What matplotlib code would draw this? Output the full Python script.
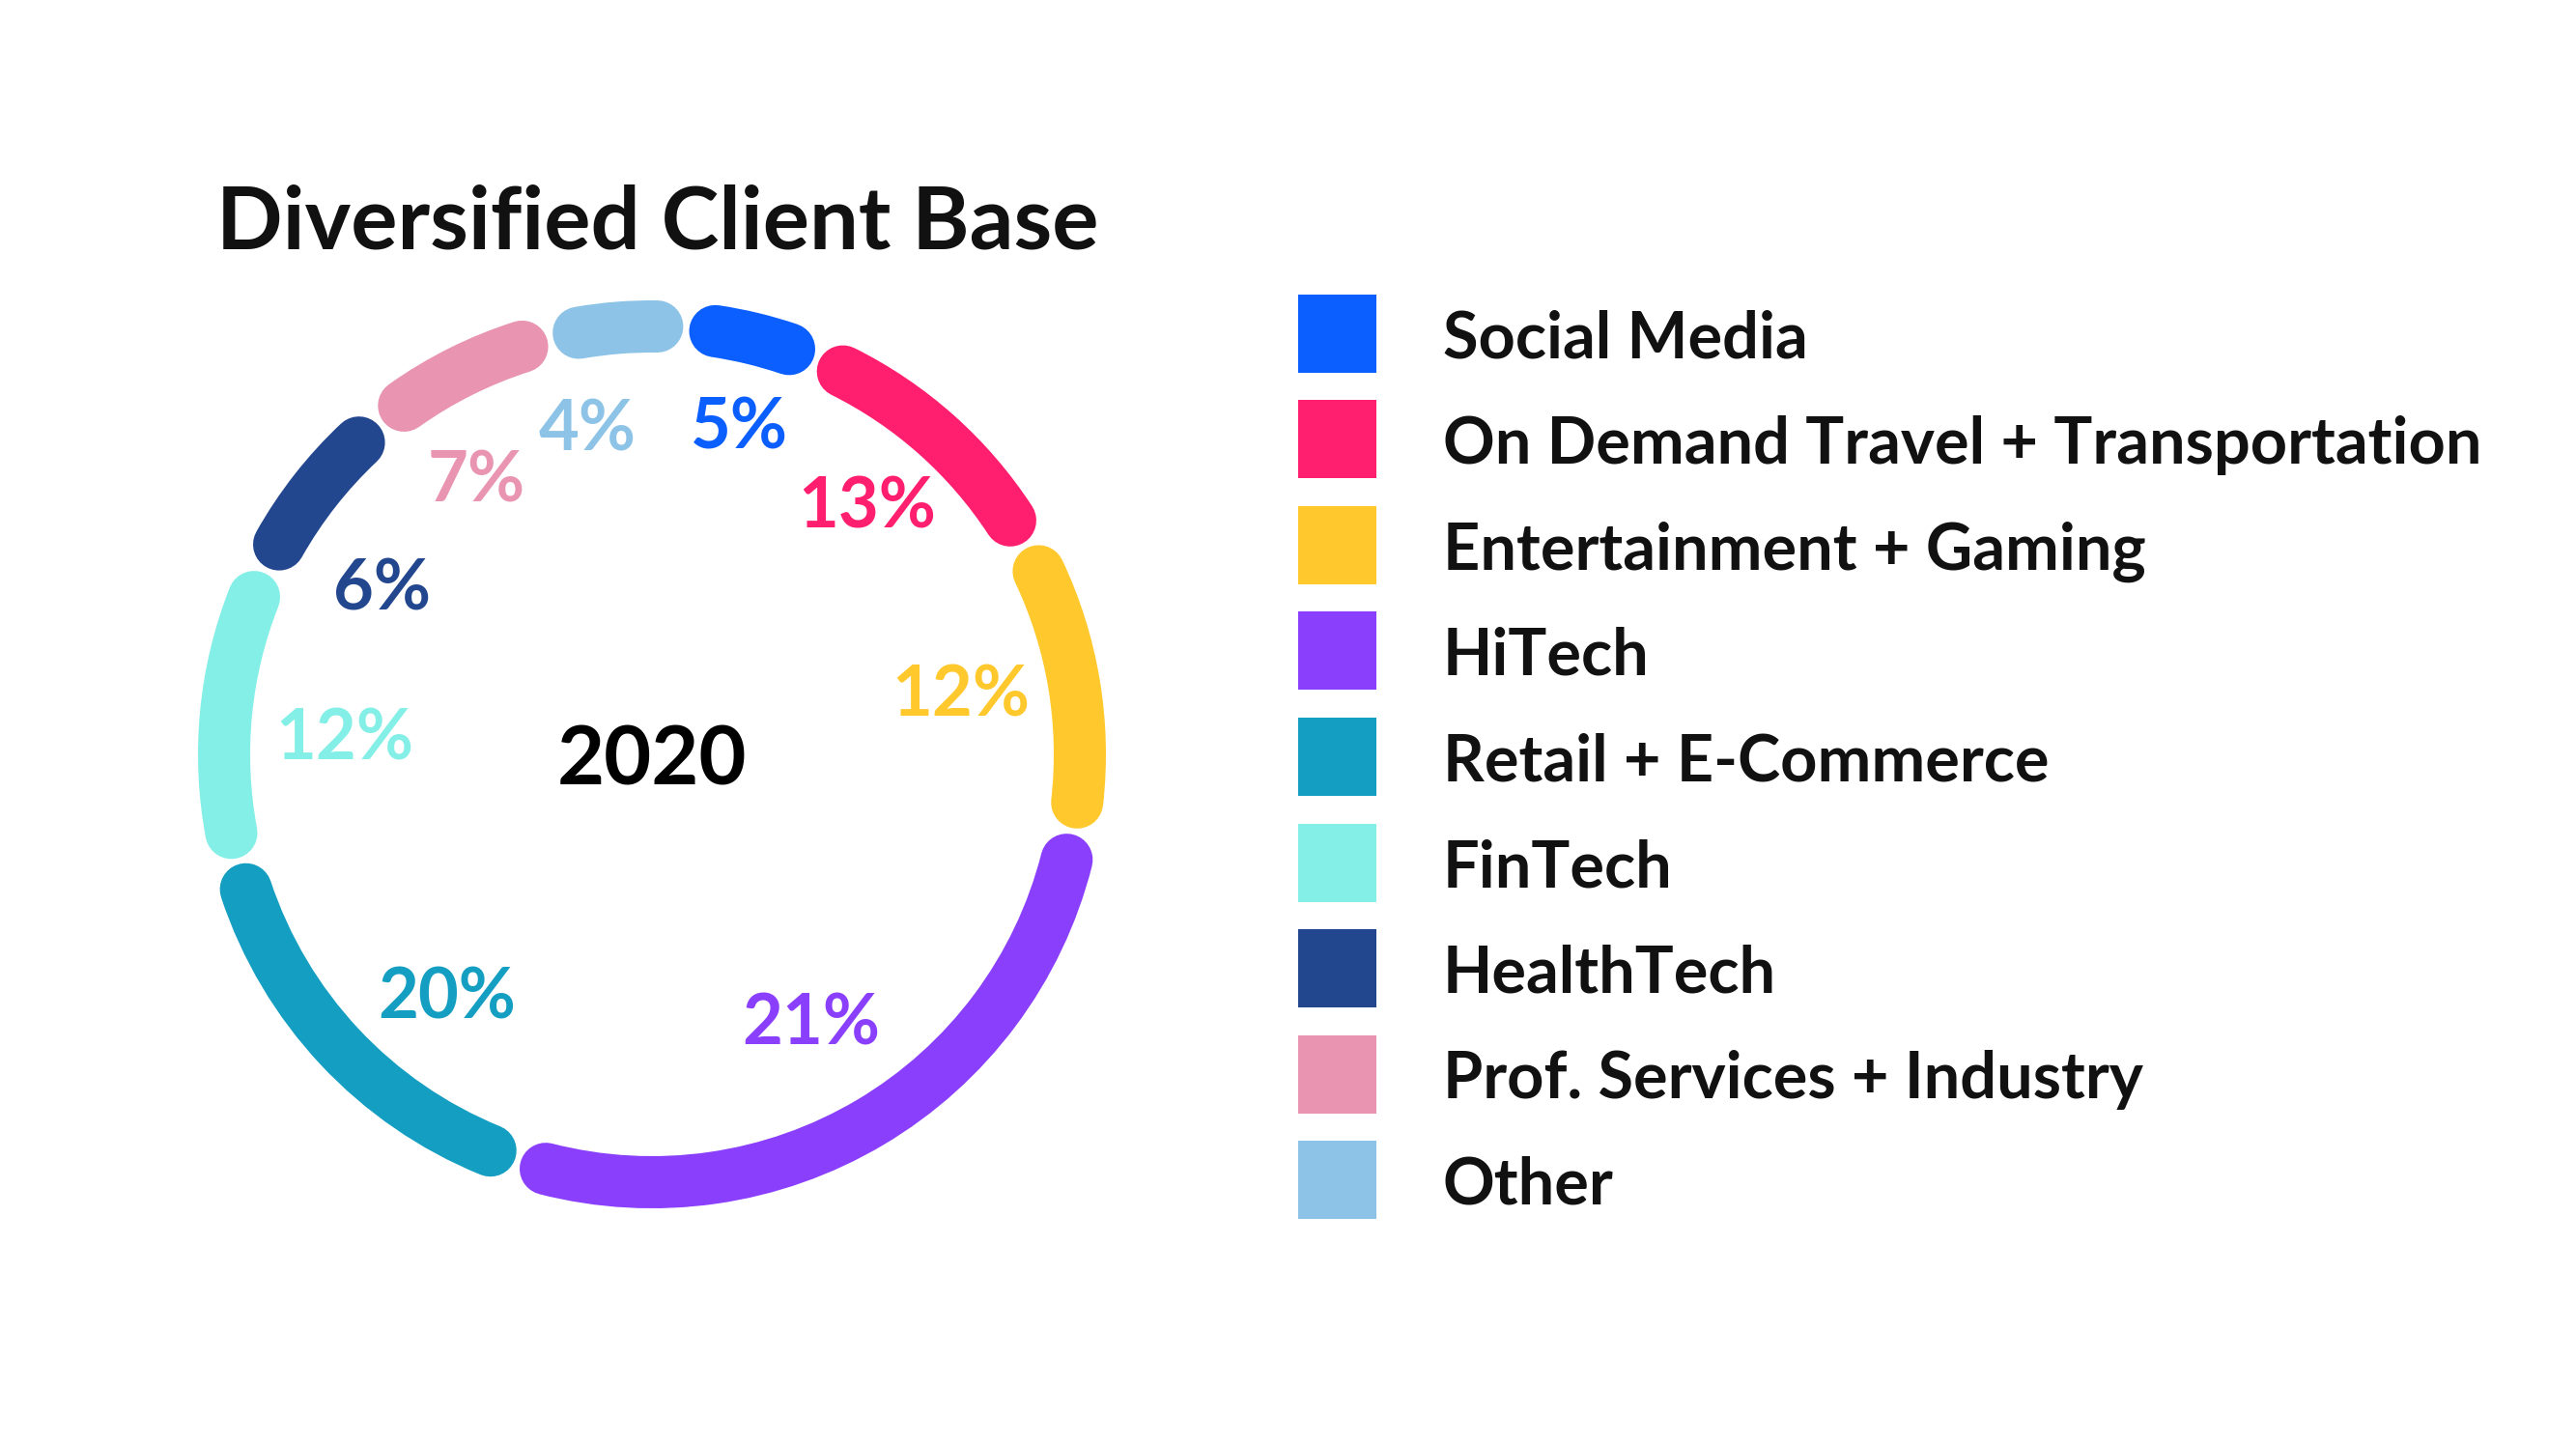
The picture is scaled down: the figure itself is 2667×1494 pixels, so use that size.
import matplotlib

matplotlib.use("Agg")
import matplotlib.pyplot as plt
import numpy as np
from matplotlib.patches import Arc

# segments clockwise from the top of the ring
SEGMENTS = [
    "Social Media",
    "On Demand Travel + Transportation",
    "Entertainment + Gaming",
    "HiTech",
    "Retail + E-Commerce",
    "FinTech",
    "HealthTech",
    "Prof. Services + Industry",
    "Other",
]
PCT_LABELS = [5, 13, 12, 21, 20, 12, 6, 7, 4]
# share of the circle each arc takes in the original drawing (not drawn to label scale there)
ARC_SHARE = [5.0, 10.6, 11.0, 27.2, 15.9, 11.1, 7.0, 7.1, 5.1]
YEAR = "2020"
TITLE = "Diversified Client Base"

COLORS = [
    "#0B5FFF",
    "#FF1F6E",
    "#FFC92E",
    "#8A3FFC",
    "#139EC2",
    "#84EFE6",
    "#22478F",
    "#E995B2",
    "#8DC3E6",
]

FONT = "Lato"
W, H, DPI = 2667, 1494, 100
CX, CY = 675, 781          # ring centre, pixels from top-left
RING_R = 443               # ring centre-line radius, px
RING_LW = 54               # stroke width, px
START_DEG = 4.6            # clockwise from 12 o'clock
TRIM_DEG = 3.9             # room for round caps + small gap
# where each % label sits: (degrees clockwise from top, radius px)
LABEL_POS = [
    (14.7, 355),
    (40.4, 344),
    (78.2, 327),
    (149.0, 319),
    (220.8, 325),
    (273.8, 319),
    (302.3, 331),
    (327.7, 341),
    (349.0, 348),
]


def px_to_pt(px: float) -> float:
    return px * 72 / DPI


def draw_ring(ax) -> None:
    bounds = START_DEG + np.concatenate([[0], np.cumsum(ARC_SHARE)]) * 3.6
    for i, color in enumerate(COLORS):
        a0, a1 = bounds[i], bounds[i + 1]
        ax.add_patch(
            Arc(
                (0, 0),
                2 * RING_R,
                2 * RING_R,
                theta1=90 - (a1 - TRIM_DEG),
                theta2=90 - (a0 + TRIM_DEG),
                lw=px_to_pt(RING_LW),
                color=color,
                capstyle="round",
            )
        )
        ang, rad = LABEL_POS[i]
        ang = np.deg2rad(ang)
        ax.text(
            rad * np.sin(ang),
            rad * np.cos(ang),
            f"{PCT_LABELS[i]}%",
            ha="center",
            va="center_baseline",
            fontsize=52,
            fontweight="bold",
            family=FONT,
            color=color,
        )
    ax.text(0, 0, YEAR, ha="center", va="center_baseline", fontsize=61, fontweight="bold", family=FONT, color="black")


def draw_legend(ax) -> None:
    rows = np.arange(len(SEGMENTS))
    ax.scatter(np.full(len(rows), 44), rows, s=px_to_pt(81) ** 2, marker="s", c=COLORS, linewidths=0)
    for r, name in zip(rows, SEGMENTS):
        ax.text(154, r, name, ha="left", va="center_baseline", fontsize=48, fontweight="bold", family=FONT, color="#111111")


def main() -> None:
    fig = plt.figure(figsize=(W / DPI, H / DPI), dpi=DPI, facecolor="white")

    box = 520
    ax = fig.add_axes([(CX - box) / W, (H - CY - box) / H, 2 * box / W, 2 * box / H])
    ax.set_xlim(-box, box)
    ax.set_ylim(-box, box)
    ax.axis("off")
    draw_ring(ax)

    pitch = 109.6
    top, bottom = 345 - pitch / 2, 1222 + pitch / 2
    ax_leg = fig.add_axes([1340 / W, (H - bottom) / H, 1300 / W, (bottom - top) / H])
    ax_leg.set_xlim(0, 1300)
    ax_leg.set_ylim(len(SEGMENTS) - 0.5, -0.5)
    ax_leg.axis("off")
    draw_legend(ax_leg)

    fig.text(224 / W, 1 - 257 / H, TITLE, ha="left", va="baseline", fontsize=65, fontweight="bold", family=FONT, color="#111111")

    fig.savefig("out.png", dpi=DPI, facecolor="white")
    plt.close(fig)


if __name__ == "__main__":
    main()
